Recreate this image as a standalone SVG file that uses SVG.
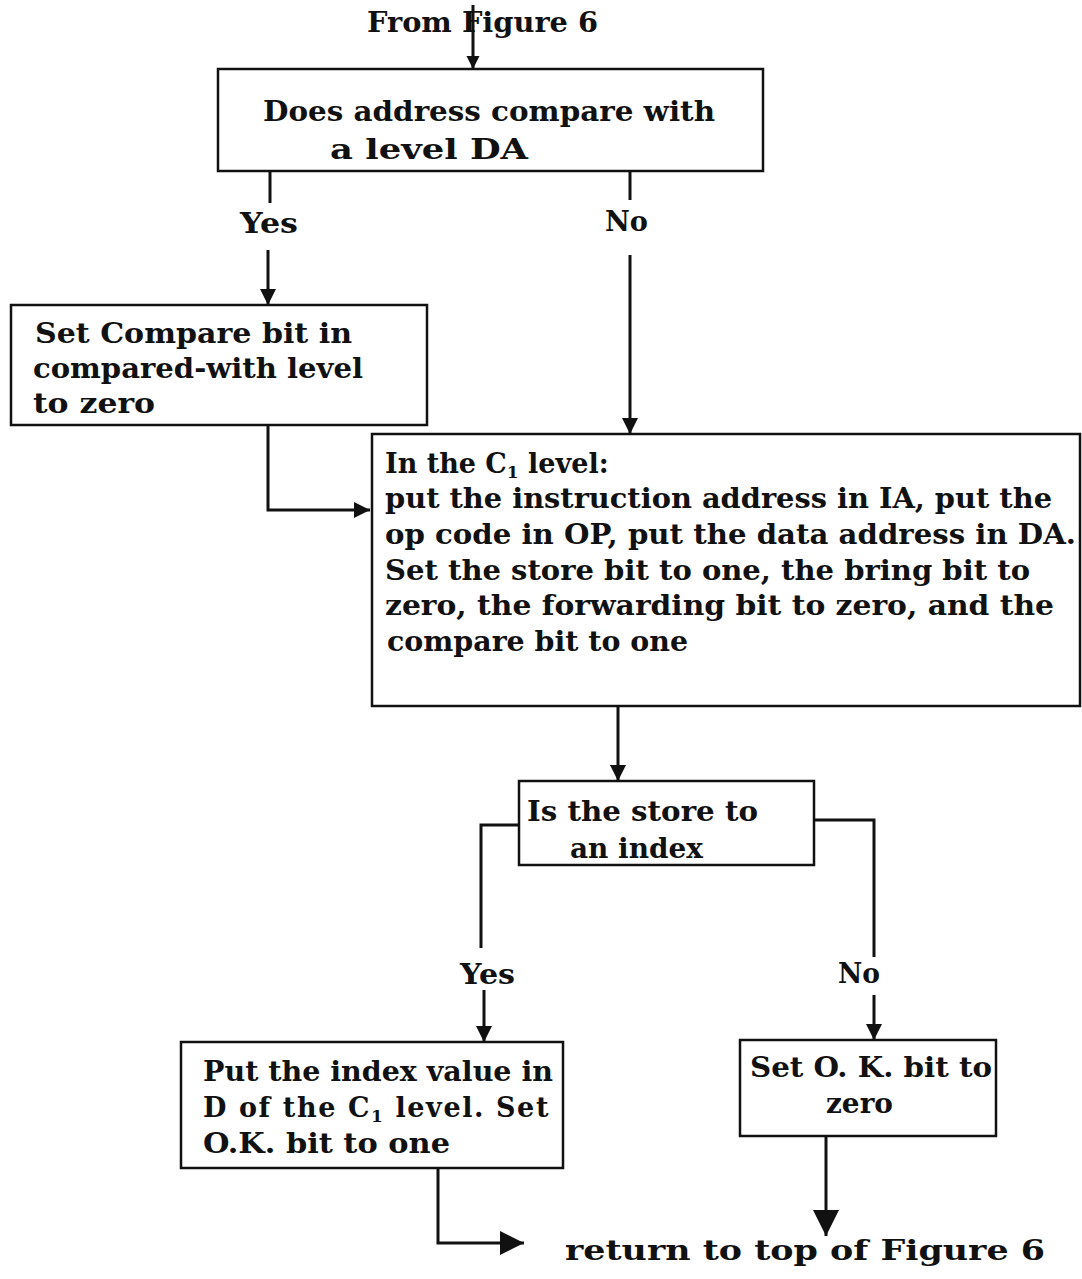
<svg xmlns="http://www.w3.org/2000/svg" width="1082" height="1279" viewBox="0 0 1082 1279">
<defs>
<marker id="ah" viewBox="0 0 10 10" refX="10" refY="5" markerWidth="18" markerHeight="16" orient="auto" markerUnits="userSpaceOnUse"><path d="M0,0 L10,5 L0,10 z" fill="#111"/></marker>
<marker id="ahw" viewBox="0 0 10 10" refX="10" refY="5" markerWidth="13" markerHeight="22" orient="auto" markerUnits="userSpaceOnUse"><path d="M0,0 L10,5 L0,10 z" fill="#111"/></marker>
<marker id="ahr" viewBox="0 0 10 10" refX="10" refY="5" markerWidth="24" markerHeight="24" orient="auto" markerUnits="userSpaceOnUse"><path d="M0,0 L10,5 L0,10 z" fill="#111"/></marker>
<marker id="ahb" viewBox="0 0 10 10" refX="10" refY="5" markerWidth="26" markerHeight="34" orient="auto" markerUnits="userSpaceOnUse"><path d="M0,0 L10,5 L0,10 z" fill="#111"/></marker>
<style>
.box{fill:#fff;stroke:#111;stroke-width:2.5}
.t{font-family:"DejaVu Serif","Liberation Serif",serif;font-weight:bold;font-size:27px;fill:#111}
.c{fill:none;stroke:#111;stroke-width:3}
.sub{font-size:17px}
</style>
</defs>
<rect width="1082" height="1279" fill="#fff"/>
<text class="t" x="367" y="32" textLength="231" lengthAdjust="spacingAndGlyphs">From Figure 6</text>
<g id="n1"><rect class="box" x="218" y="69" width="545" height="102"/>
<text class="t" x="263" y="121" textLength="452" lengthAdjust="spacingAndGlyphs">Does address compare with</text>
<text class="t" x="330" y="159" textLength="198" lengthAdjust="spacingAndGlyphs">a level DA</text></g>
<g id="n2"><rect class="box" x="11" y="305" width="416" height="120"/>
<text class="t" x="35" y="343" textLength="317" lengthAdjust="spacingAndGlyphs">Set Compare bit in</text>
<text class="t" x="33" y="378" textLength="330" lengthAdjust="spacingAndGlyphs">compared-with level</text>
<text class="t" x="33" y="413" textLength="122" lengthAdjust="spacingAndGlyphs">to zero</text></g>
<g id="n3"><rect class="box" x="372" y="434" width="708" height="272"/>
<text class="t" x="385" y="473">In the C<tspan class="sub" dy="5">1</tspan><tspan dy="-5"> level:</tspan></text>
<text class="t" x="385" y="508" textLength="667" lengthAdjust="spacingAndGlyphs">put the instruction address in IA, put the</text>
<text class="t" x="385" y="544" textLength="691" lengthAdjust="spacingAndGlyphs">op code in OP, put the data address in DA.</text>
<text class="t" x="385" y="580" textLength="645" lengthAdjust="spacingAndGlyphs">Set the store bit to one, the bring bit to</text>
<text class="t" x="385" y="615" textLength="669" lengthAdjust="spacingAndGlyphs">zero, the forwarding bit to zero, and the</text>
<text class="t" x="387" y="651" textLength="301" lengthAdjust="spacingAndGlyphs">compare bit to one</text></g>
<g id="n4"><rect class="box" x="519" y="781" width="295" height="84"/>
<text class="t" x="527" y="821" textLength="231" lengthAdjust="spacingAndGlyphs">Is the store to</text>
<text class="t" x="570" y="858" textLength="133" lengthAdjust="spacingAndGlyphs">an index</text></g>
<g id="n5"><rect class="box" x="181" y="1042" width="382" height="126"/>
<text class="t" x="203" y="1081" textLength="350" lengthAdjust="spacingAndGlyphs">Put the index value in</text>
<text class="t" x="203" y="1117" letter-spacing="1.6">D of the C<tspan class="sub" dy="5">1</tspan><tspan dy="-5"> level.  Set</tspan></text>
<text class="t" x="203" y="1153" textLength="247" lengthAdjust="spacingAndGlyphs">O.K.  bit to one</text></g>
<g id="n6"><rect class="box" x="740" y="1040" width="256" height="96"/>
<text class="t" x="750" y="1077" textLength="242" lengthAdjust="spacingAndGlyphs">Set O. K.  bit to</text>
<text class="t" x="826" y="1113" textLength="67" lengthAdjust="spacingAndGlyphs">zero</text></g>
<g id="labels">
<text class="t" x="240" y="233" textLength="58" lengthAdjust="spacingAndGlyphs">Yes</text>
<text class="t" x="605" y="231" textLength="43" lengthAdjust="spacingAndGlyphs">No</text>
<text class="t" x="460" y="984" textLength="55" lengthAdjust="spacingAndGlyphs">Yes</text>
<text class="t" x="838" y="983" textLength="42" lengthAdjust="spacingAndGlyphs">No</text>
<text class="t" x="565" y="1260" textLength="480" lengthAdjust="spacingAndGlyphs">return to top of Figure 6</text>
</g>
<g id="connectors">
<line class="c" x1="473" y1="5" x2="473" y2="69" stroke-width="2" marker-end="url(#ahw)"/>
<line class="c" x1="270" y1="171" x2="270" y2="203"/>
<line class="c" x1="268" y1="250" x2="268" y2="305" marker-end="url(#ah)"/>
<line class="c" x1="630" y1="171" x2="630" y2="200"/>
<line class="c" x1="630" y1="255" x2="630" y2="434" marker-end="url(#ah)"/>
<polyline class="c" points="268,425 268,510 370,510" stroke-width="2" marker-end="url(#ah)"/>
<line class="c" x1="618" y1="706" x2="618" y2="781" stroke-width="3.5" marker-end="url(#ah)"/>
<polyline class="c" points="519,825 481,825 481,948" stroke-width="2.5"/>
<polyline class="c" points="814,820 874,820 874,957" stroke-width="2.5"/>
<line class="c" x1="484" y1="990" x2="484" y2="1042" stroke-width="2.5" marker-end="url(#ah)"/>
<line class="c" x1="874" y1="995" x2="874" y2="1040" stroke-width="2.5" marker-end="url(#ah)"/>
<polyline class="c" points="438,1168 438,1243 524,1243" marker-end="url(#ahr)"/>
<line class="c" x1="826" y1="1136" x2="826" y2="1236" stroke-width="4" marker-end="url(#ahb)"/>
</g>
</svg>
